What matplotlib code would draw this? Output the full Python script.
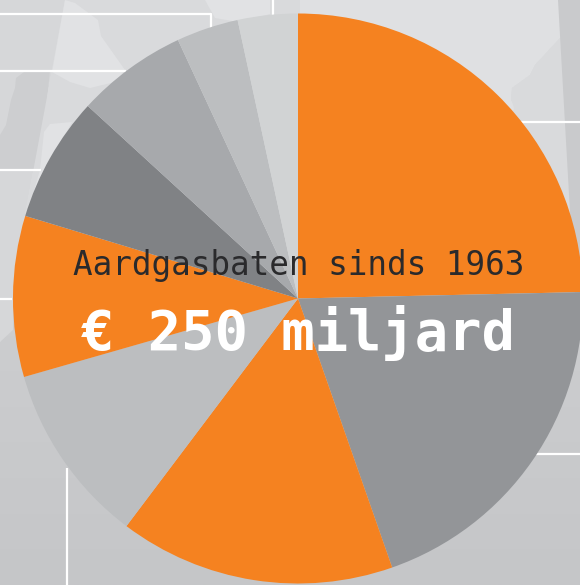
import numpy as np
import matplotlib
matplotlib.use("Agg")
import matplotlib.pyplot as plt
from matplotlib.patches import Polygon

# share of the gas revenue per slice (billion euro), clockwise from 12 o'clock
values = [61.6, 50.0, 39.1, 25.7, 22.8, 17.8, 15.7, 8.8, 8.5]
colors = ["#f58220", "#939598", "#f58220", "#bcbec0", "#f58220",
          "#808285", "#a7a9ac", "#bcbec0", "#d1d3d4"]

title = "Aardgasbaten sinds 1963"
amount = "€ 250 miljard"

W, H = 580, 585

# map shapes behind the pie, in pixels: (points, colour), painted in order
shapes = [
    # upper part of the map
    ([(0, 0), (580, 0), (580, 25), (560, 38), (535, 65), (530, 75), (512, 88),
      (511, 100), (516, 108), (300, 300), (13, 300), (0, 342)], "#dfe0e2"),
    ([(580, 25), (560, 38), (535, 65), (530, 75), (512, 88), (511, 100),
      (516, 108), (580, 300)], "#d9dadc"),
    # left side, left of the slanted band
    ([(0, 0), (65, 0), (25, 215), (13, 300), (13, 330), (0, 342)], "#d6d7d9"),
    ([(0, 135), (6, 125), (11, 100), (15, 88), (16, 78), (24, 72), (50, 70),
      (40, 170), (0, 170)], "#cdced0"),
    # band right of it
    ([(65, 0), (300, 0), (300, 300), (25, 215)], "#d9dadc"),
    ([(65, 0), (75, 3), (98, 20), (101, 36), (125, 70), (115, 82), (90, 88),
      (70, 82), (52, 72)], "#e1e2e4"),
    ([(40, 170), (44, 132), (50, 124), (72, 122), (45, 170), (27, 215)], "#e1e2e4"),
    ([(180, 0), (270, 0), (270, 14), (238, 22), (215, 18), (205, 0)], "#e1e2e4"),
    # strip on the right edge
    ([(558, 0), (580, 0), (580, 300), (575, 300)], "#c9cacc"),
    ([(512, 100), (558, 60), (575, 300), (560, 300)], "#d9dadc"),
]
white_lines = [
    [(0, 14), (211, 14), (211, 28)],
    [(0, 71), (126, 71)],
    [(0, 170), (41, 170)],
    [(273, 0), (273, 15)],
    [(0, 299), (12, 299)],
    [(521, 122), (580, 122)],
    [(488, 454), (580, 454)],
    [(67, 468), (67, 585)],
]


def draw_background(ax):
    grad = np.linspace(0, 1, 256).reshape(-1, 1)
    cmap = matplotlib.colors.LinearSegmentedColormap.from_list("bg", ["#cdced0", "#c5c6c8"])
    ax.imshow(grad, extent=(0, W, H, 300), cmap=cmap, aspect="auto", zorder=0)
    ax.axhspan(0, 300, color="#d9dadc", lw=0, zorder=0)
    for i, (pts, c) in enumerate(shapes):
        ax.add_patch(Polygon(pts, closed=True, fc=c, ec="none", zorder=1 + i * 0.01))
    for pts in white_lines:
        xs, ys = zip(*pts)
        ax.plot(xs, ys, color="white", lw=1.6, solid_capstyle="butt", zorder=2)


def main():
    fig = plt.figure(figsize=(W / 100, H / 100), dpi=100)
    ax = fig.add_axes([0, 0, 1, 1])

    draw_background(ax)

    # y axis runs downwards, so 270 / counterclockwise reads clockwise from the top
    wedges, _ = ax.pie(
        values,
        colors=colors,
        startangle=270,
        counterclock=True,
        center=(298, 298.5),
        radius=285,
        frame=True,
    )
    for w in wedges:
        w.set_zorder(3)
        w.set_linewidth(0)

    ax.set_xlim(0, W)
    ax.set_ylim(H, 0)
    ax.axis("off")

    ax.text(299, 265, title, family="DejaVu Sans Mono", fontsize=23.5,
            color="#2a2a2c", ha="center", va="center", zorder=4)
    ax.text(297.5, 333, amount, family="DejaVu Sans Mono", fontsize=40, fontweight="bold",
            color="white", ha="center", va="center", zorder=4)

    fig.savefig("out.png", dpi=100)


if __name__ == "__main__":
    main()
